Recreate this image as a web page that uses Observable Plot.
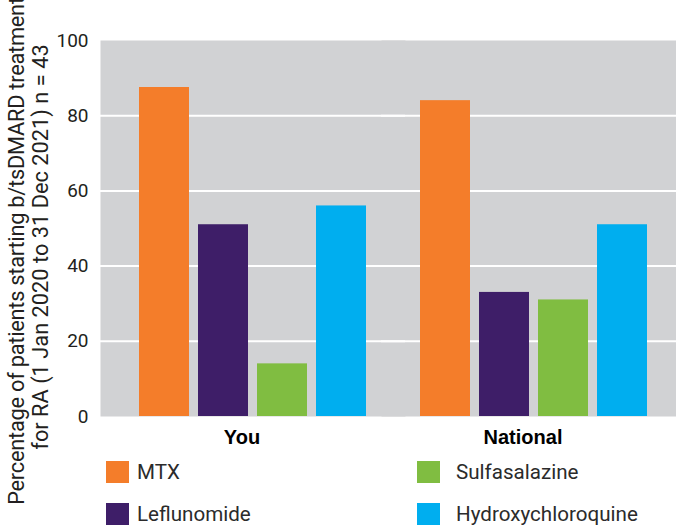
<!DOCTYPE html>
<html>
<head>
<meta charset="utf-8">
<script src="https://cdn.jsdelivr.net/npm/d3@7"></script>
<script src="https://cdn.jsdelivr.net/npm/@observablehq/plot@0.6"></script>
<style>
  html, body { margin: 0; padding: 0; background: #fff; overflow: hidden; }
  #chart { position: relative; width: 676px; height: 526px; overflow: hidden;
           font-family: Roboto, sans-serif; color: #231f20; }
  #chart svg { position: absolute; left: 0; top: 0; max-width: none; }
  .ylabel { position: absolute; left: 28px; top: 247px; white-space: nowrap;
            transform: translate(-50%, -50%) rotate(-90deg); text-align: center;
            font-size: 21.8px; line-height: 23.5px; }
  .ylabel .first { position: relative; left: -4px; letter-spacing: -0.25px; }
  .legend-item { position: absolute; height: 22px; display: flex; align-items: center;
                 font-size: 20.6px; color: #2b2b2b; }
  .swatch { position: absolute; width: 23px; height: 22px; }
</style>
</head>
<body>
<div id="chart"></div>
<script>
// Share of RA patients starting b/tsDMARD treatment who had previously used each drug
const groups = ["You", "National"];
const drugs = ["MTX", "Leflunomide", "Sulfasalazine", "Hydroxychloroquine"];
const youValues = [87.5, 51, 14, 56];
const nationalValues = [84, 33, 31, 51];
const drugColors = ["#f47d2a", "#3e1e68", "#80bd41", "#00aeef"];
const yTicks = [0, 20, 40, 60, 80, 100];
const gridValues = [20, 40, 60, 80];
const yLabelLines = [
  "Percentage of patients starting b/tsDMARD treatment",
  "for RA (1 Jan 2020 to 31 Dec 2021) n = 43"
];

const rows = [
  ...drugs.map((drug, i) => ({group: "You", drug, value: youValues[i]})),
  ...drugs.map((drug, i) => ({group: "National", drug, value: nationalValues[i]}))
];

const chart = document.getElementById("chart");

const plot = Plot.plot({
  width: 686,
  height: 455,
  marginLeft: 100,
  marginRight: 0,
  marginTop: 40,
  marginBottom: 39,
  style: {fontFamily: "Roboto, sans-serif", fontSize: "19px", color: "#231f20",
          background: "transparent", overflow: "visible", maxWidth: "none"},
  fx: {domain: groups, paddingInner: 0, paddingOuter: 12 / 281, axis: null, label: null},
  x: {domain: drugs, paddingInner: 9 / 59, paddingOuter: 27 / 59, axis: null},
  y: {domain: [0, 100], ticks: yTicks, tickSize: 0, tickPadding: 24, label: null, tickFormat: d => d},
  color: {domain: drugs, range: drugColors},
  marks: [
    Plot.frame({fill: "#d1d2d4", stroke: "none", insetLeft: -12, insetRight: -12}),
    Plot.ruleY(gridValues, {stroke: "#ffffff", strokeWidth: 2, insetLeft: -12, insetRight: -12}),
    Plot.barY(rows, {fx: "group", x: "drug", y: "value", fill: "drug"}),
    Plot.text(groups, {
      fx: d => d, text: d => d, frameAnchor: "bottom", dy: 27, dx: -11,
      fontFamily: "Liberation Sans, Arial, sans-serif", fontWeight: "bold", fontSize: 20, fill: "#000"
    })
  ]
});
chart.appendChild(plot);

// rotated two-line axis title
const ylab = document.createElement("div");
ylab.className = "ylabel";
ylab.innerHTML = yLabelLines.map((t, i) => `<div class="${i === 0 ? "first" : ""}">${t}</div>`).join("");
chart.appendChild(ylab);

// two-column legend: first two drugs on the left, the others on the right
const swatchLeft = [106, 417];
const textLeft = [137, 456];
const rowTop = [461, 503];
drugs.forEach((drug, i) => {
  const col = Math.floor(i / 2), row = i % 2;
  const sw = document.createElement("div");
  sw.className = "swatch";
  sw.style.left = swatchLeft[col] + "px";
  sw.style.top = rowTop[row] + "px";
  sw.style.background = drugColors[i];
  chart.appendChild(sw);
  const lab = document.createElement("div");
  lab.className = "legend-item";
  lab.style.left = textLeft[col] + "px";
  lab.style.top = rowTop[row] + "px";
  lab.textContent = drug;
  chart.appendChild(lab);
});
</script>
</body>
</html>
